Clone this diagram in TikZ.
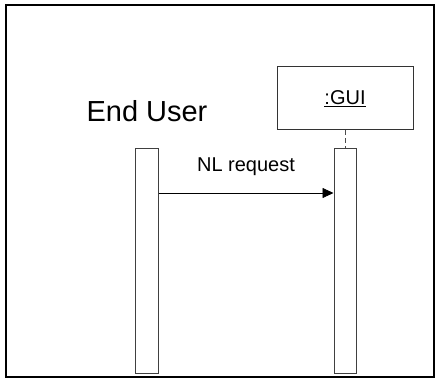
\documentclass[tikz,border=0pt]{standalone}
\usepackage{fontspec}
\setmainfont{Liberation Sans}
\usetikzlibrary{arrows.meta}
\begin{document}
\begin{tikzpicture}[x=1pt,y=-1pt,
  frame/.style={draw=black,line width=2pt},
  obj/.style={draw=black!80,line width=1pt,fill=white},
  actbox/.style={draw=black!75,line width=1pt,fill=white},
  msg/.style={draw=black,line width=0.8pt,-{Triangle[length=11pt,width=10pt]}},
  life/.style={draw=black!70,line width=0.8pt,dash pattern=on 5pt off 3pt}]
\useasboundingbox (0,0) rectangle (435,379);
\draw[frame] (6,5) rectangle (434,377);
% GUI object
\node[obj,minimum width=136pt,minimum height=63pt,inner sep=0pt,
  font=\fontsize{20}{24}\selectfont] (gui) at (345,98.5) {\underline{:GUI}};
% End User label
\node[font=\fontsize{29}{33}\selectfont,inner sep=0pt] (user) at (147,111) {End User};
% activation bars
\node[actbox,minimum width=23pt,minimum height=225pt,inner sep=0pt,anchor=north] (ua) at (146.5,148) {};
\node[actbox,minimum width=22pt,minimum height=225pt,inner sep=0pt,anchor=north] (ga) at (345,148) {};
% lifeline
\draw[life] (gui.south) -- (ga.north);
% message
\coordinate (m1) at (ua.east |- 0,193);
\coordinate (m2) at (ga.west |- 0,193);
\draw[msg] (m1) -- (m2);
\node[font=\fontsize{20}{24}\selectfont,inner sep=0pt] (lbl) at (246,167) {NL request};
\end{tikzpicture}
\end{document}
